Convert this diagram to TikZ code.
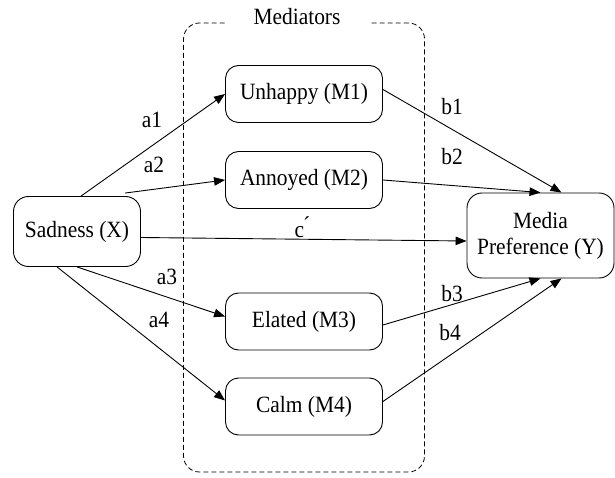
\documentclass[tikz,border=0pt]{standalone}
\usepackage{fontspec}
\setmainfont[FakeStretch=0.92]{Liberation Serif}
\usetikzlibrary{arrows.meta,calc}
\begin{document}
\begin{tikzpicture}[x=1pt,y=-1pt,
  box/.style={draw,rounded corners=13pt,line width=0.9pt,align=center,inner sep=0pt},
  medbox/.style={box,minimum width=157pt,minimum height=57pt},
  arr/.style={line width=0.9pt,-{Triangle[length=11pt,width=8.5pt]}},
  lab/.style={inner sep=1pt},
  every node/.style={font=\fontsize{23.3}{26}\selectfont}]
\useasboundingbox[fill=white] (0,0) rectangle (615,478);
\node[draw,dash pattern=on 5pt off 3pt,rounded corners=16pt,line width=0.8pt,minimum width=241pt,minimum height=449pt,inner sep=0pt] (med) at (304,247.5) {};
\node[fill=white,minimum width=143pt,inner ysep=4pt] (medlab) at (297,17) {Mediators};
\node[medbox] (M1) at (304,94) {Unhappy (M1)};
\node[medbox] (M2) at (304,180) {Annoyed (M2)};
\node[medbox] (M3) at (304,321.5) {Elated (M3)};
\node[medbox] (M4) at (304,406.5) {Calm (M4)};
\node[box,rounded corners=15pt,minimum width=127pt,minimum height=70pt] (X) at (77,231.5) {Sadness (X)};
\node[box,rounded corners=15pt,minimum width=147pt,minimum height=85pt] (Y) at (540.5,235.5) {Media\\Preference (Y)};
\draw[arr] ([xshift=68pt]X.north west) -- (M1.west);
\draw[arr] ([xshift=112pt,yshift=3pt]X.north west) -- (M2.west);
\draw[arr] ([yshift=-6pt]X.east) -- ([yshift=-5.5pt]Y.west);
\draw[arr] (X.south) -- ([yshift=5pt]M3.west);
\draw[arr] ([xshift=44pt]X.south west) -- ([yshift=6pt]M4.west);
\draw[arr] ([yshift=4.5pt]M1.east) -- ([xshift=21pt]Y.north);
\draw[arr] (M2.east) -- (Y.north);
\draw[arr] ([yshift=-3.5pt]M3.east) -- (Y.south);
\draw[arr] ([yshift=5pt]M4.east) -- ([xshift=21pt]Y.south);
\node[lab] (la1) at (152,120) {a1};
\node[lab] (la2) at (154,165) {a2};
\node[lab] (lc) at (302,227) {c\'{}};
\node[lab] (la3) at (167,277) {a3};
\node[lab] (la4) at (159,320) {a4};
\node[lab] (lb1) at (452,107) {b1};
\node[lab] (lb2) at (452,157) {b2};
\node[lab] (lb3) at (452,294) {b3};
\node[lab] (lb4) at (450,333) {b4};
\end{tikzpicture}
\end{document}
